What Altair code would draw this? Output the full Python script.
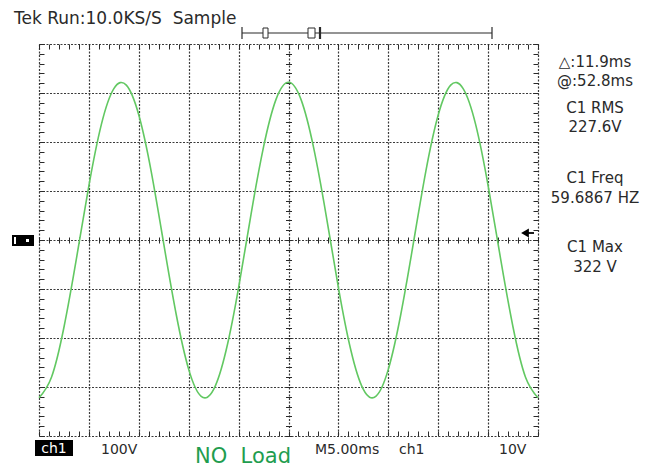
import altair as alt
import pandas as pd

# ---- waveform readings (time in ms, voltage in V) ----
T_MS = [-25.0, -23.75, -22.5, -21.25, -20.0, -18.75, -17.5, -16.25, -15.0, -13.75,
        -12.5, -11.25, -10.0, -8.75, -7.5, -6.25, -5.0, -3.75, -2.5, -1.25,
        0.0, 1.25, 2.5, 3.75, 5.0, 6.25, 7.5, 8.75, 10.0, 11.25,
        12.5, 13.75, 15.0, 16.25, 17.5, 18.75, 20.0, 21.25, 22.5, 23.75, 25.0]
VOLTS = [-322, -280, -178, -38, 111, 236, 309, 316, 255, 139,
         -8, -152, -264, -319, -305, -225, -97, 53, 190, 287,
         322, 287, 190, 53, -97, -225, -305, -319, -264, -152,
         -8, 139, 255, 316, 309, 236, 111, -38, -178, -280, -322]

# ---- graticule ----
X_MAJOR = [-25, -20, -15, -10, -5, 0, 5, 10, 15, 20, 25]          # 5 ms / div
Y_MAJOR = [-400, -300, -200, -100, 0, 100, 200, 300, 400]          # 100 V / div
X_MINOR = list(range(-25, 26, 1))
Y_MINOR = list(range(-400, 401, 20))

# ---- texts ----
HEADER = ["Tek Run:10.0KS/S\u00a0\u00a0Sample"]
READOUT = ["\u25b3:11.9ms", "@:52.8ms", "C1 RMS", "227.6V",
           "C1 Freq", "59.6867 HZ", "C1 Max", "322 V"]
FOOTER = ["ch1", "100V", "M5.00ms", "ch1", "10V"]
CAPTION = ["NO\u00a0\u00a0Load"]

W, H = 499, 392
FONT = "DejaVu Sans"
INK = "#2a2a2a"

df = pd.DataFrame({"t": T_MS, "v": VOLTS})
xs = alt.Scale(domain=[-25, 25], nice=False, zero=False)
ys = alt.Scale(domain=[-400, 400], nice=False, zero=False)

base = alt.Chart(df)


def axis_layer(xaxis, yaxis):
    return base.mark_line(opacity=0).encode(
        x=alt.X("t:Q", scale=xs, axis=xaxis),
        y=alt.Y("v:Q", scale=ys, axis=yaxis),
    )


def tick_axis(values, orient, offset, size):
    return alt.Axis(values=values, orient=orient, offset=offset, tickSize=size,
                    tickColor=INK, tickWidth=1, labels=False, domain=False,
                    grid=False, title=None)


grid = axis_layer(
    alt.Axis(values=X_MAJOR, grid=True, gridColor="#3a3a3a", gridDash=[2, 1.5],
             gridWidth=1.2, gridOpacity=1, ticks=False, labels=False,
             domain=False, title=None),
    alt.Axis(values=Y_MAJOR, grid=True, gridColor="#3a3a3a", gridDash=[2, 1.5],
             gridWidth=1.2, gridOpacity=1, ticks=False, labels=False,
             domain=False, title=None),
)
ticks_a = axis_layer(tick_axis(X_MINOR, "top", -5, 5), tick_axis(Y_MINOR, "left", -5, 5))
ticks_b = axis_layer(tick_axis(X_MINOR, "bottom", -5, 5), tick_axis(Y_MINOR, "right", -5, 5))
ticks_c = axis_layer(tick_axis(X_MINOR, "bottom", -(H / 2 + 3), 6),
                     tick_axis(Y_MINOR, "left", -(W / 2 + 3), 6))

wave = base.mark_line(color="#62c862", strokeWidth=1.6, interpolate="natural").encode(
    x=alt.X("t:Q", scale=xs, axis=None),
    y=alt.Y("v:Q", scale=ys, axis=None),
)

one = alt.Data(values=[{"k": 1}])


def label(txt, x, y, size, color=INK, align="left"):
    return alt.Chart(alt.Data(values=[{"s": txt}])).mark_text(
        align=align, baseline="alphabetic", fontSize=size, font=FONT, color=color
    ).encode(text="s:N", x=alt.value(x), y=alt.value(y))


def box(x1, x2, y1, y2, fill=None, stroke=None, sw=1):
    kw = {}
    if fill is not None:
        kw["fill"] = fill
    else:
        kw["filled"] = False
    if stroke is not None:
        kw["stroke"] = stroke
        kw["strokeWidth"] = sw
    return alt.Chart(one).mark_rect(**kw).encode(
        x=alt.value(x1), x2=alt.value(x2), y=alt.value(y1), y2=alt.value(y2))


def rule(x1, x2, y1, y2, w=1.2, color=INK):
    return alt.Chart(one).mark_rule(color=color, strokeWidth=w).encode(
        x=alt.value(x1), x2=alt.value(x2), y=alt.value(y1), y2=alt.value(y2))


deco = [
    # record bar at the top
    rule(203, 453, -11, -11),
    rule(203, 203, -17, -5),
    rule(453, 453, -17, -5),
    box(224, 229, -16, -6, fill="white", stroke=INK),
    box(269, 276, -16, -6, fill="white", stroke=INK),
    rule(281, 281, -17, -5, w=2.2),
    # ground marker
    box(-27, -5, 191, 202, fill="black"),
    box(-25, -23, 193, 200, fill="white"),
    box(-13, -10, 195, 198, fill="white"),
    # trigger arrow
    alt.Chart(one).mark_point(shape="triangle-left", filled=True, color="black",
                              size=80, opacity=1).encode(x=alt.value(486), y=alt.value(189)),
    rule(486, 495, 189, 189, w=1.8, color="black"),
    # ch1 badge
    box(-4, 34, 396, 412, fill="black"),
]

texts = [label(HEADER[0], -25, -20, 17)]
ry = [23, 42, 69, 88, 139, 159, 208, 228]
for s, yy in zip(READOUT, ry):
    texts.append(label(s, 556, yy, 15, align="center"))
texts.append(label(FOOTER[0], 15, 409, 14, color="white", align="center"))
for s, xx in zip(FOOTER[1:], [62, 276, 360, 460]):
    texts.append(label(s, xx, 410, 14))
texts.append(label(CAPTION[0], 156, 419, 21, color="#1f9d4f"))

chart = alt.layer(grid, ticks_a, ticks_b, ticks_c, wave, *deco, *texts).resolve_axis(
    x="independent", y="independent"
).properties(
    width=W, height=H,
    autosize=alt.AutoSizeParams(type="none"),
    padding={"left": 31, "top": 36, "right": 108, "bottom": 32},
    background="white",
).configure_view(strokeWidth=0)

chart.save("out.html", embed_options={"renderer": "svg", "actions": False})
